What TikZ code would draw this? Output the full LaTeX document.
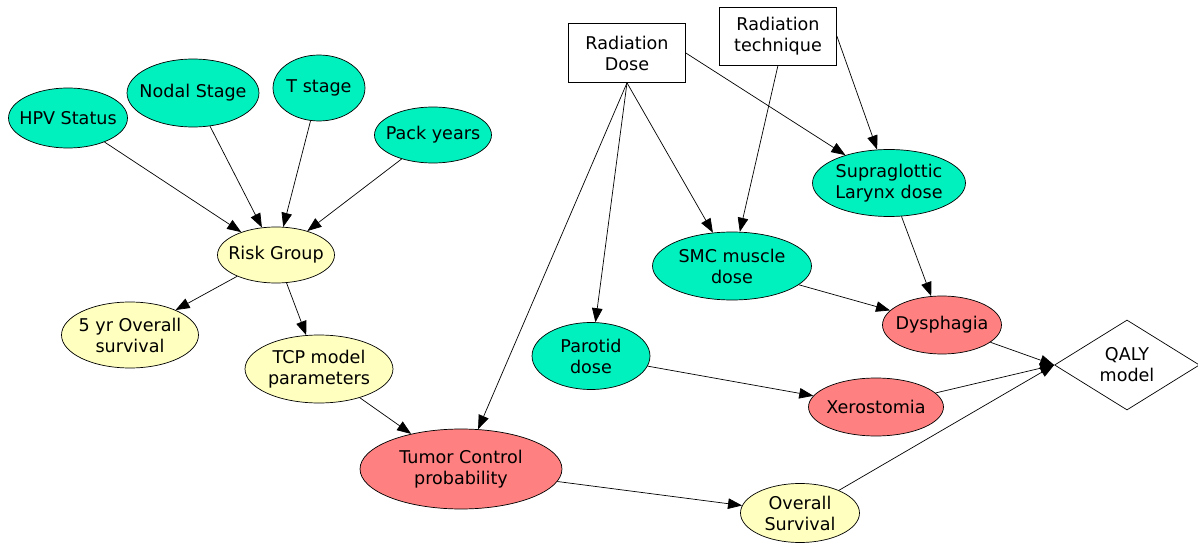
\documentclass[tikz,border=0pt]{standalone}
\usepackage{fontspec}
\setmainfont{DejaVu Sans}
\usetikzlibrary{arrows.meta, shapes.geometric}
\definecolor{inputteal}{RGB}{0,240,190}
\definecolor{outcomered}{RGB}{255,128,128}
\definecolor{derivedyellow}{RGB}{255,255,192}
\tikzset{->,>={Triangle[length=8pt,width=6pt]},
    line width=0.6pt,
    oval/.style={ellipse,draw,align=center,inner xsep=-1cm,inner ysep=-0.5cm},
    factor/.style={oval,fill=inputteal},
    outcome/.style={oval,fill=outcomered},
    derived/.style={oval,fill=derivedyellow},
    treatment/.style={rectangle,draw,fill=white,align=center,inner sep=0pt},
    utility/.style={diamond,draw,fill=white,align=center,inner sep=0pt}}

\begin{document}
\begin{tikzpicture}
[x=0.02cm,y=-0.02cm,font=\fontsize{10}{12}\selectfont]
\useasboundingbox (0,0) rectangle (1198,544);

% patient factors
\node[factor, minimum width=2.38cm, minimum height=1.2cm]  (hpv)   at (68,118)  {HPV Status};
\node[factor, minimum width=2.64cm, minimum height=1.36cm] (nodal) at (193,93)  {Nodal Stage};
\node[factor, minimum width=1.84cm, minimum height=1.32cm] (tst)   at (319,88)  {T stage};
\node[factor, minimum width=2.34cm, minimum height=1.12cm] (pack)  at (433,135) {Pack years};
\node[derived, minimum width=2.34cm, minimum height=1.12cm] (risk) at (276,255) {Risk Group};
\node[derived, minimum width=2.74cm, minimum height=1.32cm] (os5)  at (130,335) {5 yr Overall\\survival};
\node[derived, minimum width=2.96cm, minimum height=1.36cm] (tcpp) at (319,369) {TCP model\\parameters};
\node[outcome, minimum width=4.04cm, minimum height=1.6cm]  (tcp)  at (461,469) {Tumor Control\\probability};
\node[derived, minimum width=2.38cm, minimum height=1.18cm] (os)   at (800,513) {Overall\\Survival};

% treatment
\node[treatment, minimum width=2.34cm, minimum height=1.18cm] (dose) at (627,53) {Radiation\\Dose};
\node[treatment, minimum width=2.34cm, minimum height=1.16cm] (tech) at (778,36) {Radiation\\technique};
\node[factor, minimum width=3.06cm, minimum height=1.34cm] (supra) at (889,183) {Supraglottic\\Larynx dose};
\node[factor, minimum width=3.18cm, minimum height=1.36cm] (smc)   at (732,266) {SMC muscle\\dose};
\node[factor, minimum width=2.36cm, minimum height=1.34cm] (parot) at (591,356) {Parotid\\dose};
\node[outcome, minimum width=2.38cm, minimum height=1.16cm] (dysph) at (942,325) {Dysphagia};
\node[outcome, minimum width=2.7cm, minimum height=1.16cm]  (xero)  at (876,407) {Xerostomia};
\node[utility, minimum width=2.9cm, minimum height=1.8cm]   (qaly)  at (1127,365) {QALY\\model};

\path[]
    (hpv)   edge (risk)
    (nodal) edge (risk)
    (tst)   edge (risk)
    (pack)  edge (risk)
    (risk)  edge (os5)
    (risk)  edge (tcpp)
    (tcpp)  edge (tcp)
    (tcp)   edge (os)
    (os)    edge (qaly.west);

\path[]
    (dose.south)  edge (tcp)
    (dose.south)  edge (parot)
    (dose.south)  edge (smc)
    (dose.east)   edge (supra)
    (tech.south)  edge (smc)
    (tech.east)   edge (supra)
    (supra) edge (dysph)
    (smc)   edge (dysph)
    (parot) edge (xero)
    (dysph) edge (qaly.west)
    (xero)  edge (qaly.west);
\end{tikzpicture}
\end{document}
